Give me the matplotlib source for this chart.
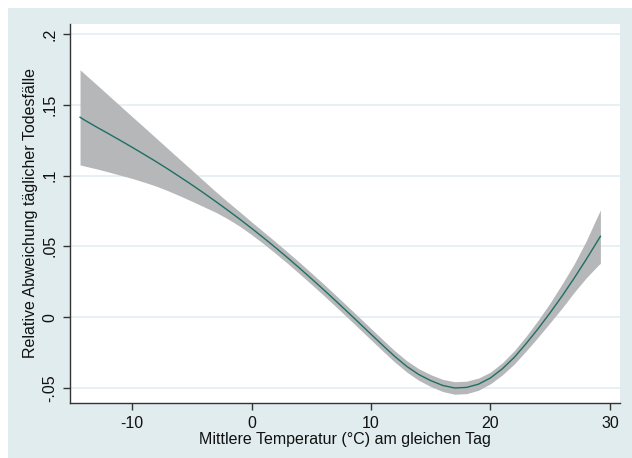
import matplotlib
matplotlib.use('Agg')
import matplotlib.pyplot as plt
from matplotlib.patches import Rectangle

plt.rcParams['font.family'] = ['Liberation Sans', 'DejaVu Sans']
plt.rcParams['axes.unicode_minus'] = False

# Werte
temp = [-14.35, -14, -13, -12, -11, -10, -9, -8, -7, -6, -5, -4, -3, -2, -1,
        0, 1, 2, 3, 4, 5, 6, 7, 8, 9, 10, 11, 12, 13, 14, 15, 16, 17, 18,
        19, 20, 21, 22, 23, 24, 25, 26, 27, 28, 29, 29.2]
schaetzer = [0.1412, 0.1393, 0.1344, 0.1297, 0.1249, 0.1200, 0.1150, 0.1099,
             0.1046, 0.0991, 0.0935, 0.0877, 0.0817, 0.0756, 0.0693,
             0.0628, 0.0561, 0.0492, 0.0421, 0.0348, 0.0273, 0.0197, 0.0119,
             0.0040, -0.0040, -0.0120, -0.0200, -0.0278, -0.0348, -0.0405,
             -0.0448, -0.0482, -0.0500, -0.0496, -0.0473, -0.0429, -0.0364,
             -0.0283, -0.0185, -0.0080, 0.0032, 0.0150, 0.0275, 0.0406,
             0.0543, 0.0571]
unten = [0.1075, 0.1068, 0.1048, 0.1026, 0.1003, 0.0980, 0.0954, 0.0926,
         0.0893, 0.0857, 0.0819, 0.0780, 0.0741, 0.0695, 0.0643,
         0.0583, 0.0519, 0.0451, 0.0381, 0.0308, 0.0233, 0.0157, 0.0079,
         0.0000, -0.0080, -0.0160, -0.0240, -0.0318, -0.0388, -0.0446,
         -0.0490, -0.0525, -0.0544, -0.0540, -0.0516, -0.0470, -0.0407,
         -0.0330, -0.0237, -0.0140, -0.0038, 0.0065, 0.0175, 0.0276,
         0.0365, 0.0381]
oben = [0.1747, 0.1720, 0.1645, 0.1569, 0.1493, 0.1417, 0.1342, 0.1266,
        0.1190, 0.1114, 0.1039, 0.0963, 0.0887, 0.0815, 0.0745,
        0.0673, 0.0603, 0.0533, 0.0461, 0.0388, 0.0313, 0.0237, 0.0159,
        0.0080, 0.0000, -0.0080, -0.0160, -0.0238, -0.0308, -0.0364,
        -0.0406, -0.0439, -0.0456, -0.0452, -0.0430, -0.0388, -0.0321,
        -0.0236, -0.0133, -0.0020, 0.0102, 0.0235, 0.0375, 0.0536,
        0.0721, 0.0757]

xticks = [-10, 0, 10, 20, 30]
yticks = [-0.05, 0, 0.05, 0.1, 0.15, 0.2]
ytick_labels = ['-.05', '0', '.05', '.1', '.15', '.2']

W, H = 632, 458
fig = plt.figure(figsize=(W / 100, H / 100), dpi=100, facecolor='white')
fig.patches.append(Rectangle((8 / W, 0), 1, 1 - 8 / H, transform=fig.transFigure,
                             facecolor='#e1ecee', edgecolor='none', zorder=-10))

ax = fig.add_axes([70 / W, 1 - 403 / H, 550 / W, 379 / H])
ax.set_zorder(5)
ax.set_facecolor('white')

ax.fill_between(temp, unten, oben, color='#b5b7b9', linewidth=0, zorder=2)
ax.plot(temp, schaetzer, color='#1e6f63', linewidth=1.0, zorder=3)

ax.set_xlim(-15.19, 30.84)
ax.set_ylim(-0.0606, 0.207)
ax.set_xticks(xticks)
ax.set_yticks(yticks)
ax.set_yticklabels(ytick_labels, rotation=90, va='center')
ax.grid(axis='y', color='#e3edf0', linewidth=1.2, zorder=1)
ax.set_axisbelow(True)

for s in ['top', 'right']:
    ax.spines[s].set_visible(False)
for s in ['left', 'bottom']:
    ax.spines[s].set_color('#333333')
    ax.spines[s].set_linewidth(1.0)

ax.tick_params(axis='both', direction='out', length=5, width=1, color='#333333',
               labelsize=11.5, labelcolor='#111111', pad=4)

ax.set_xlabel('Mittlere Temperatur (°C) am gleichen Tag', fontsize=11.5,
              color='#111111', labelpad=1)
ax.set_ylabel('Relative Abweichung täglicher Todesfälle', fontsize=11.5,
              color='#111111', labelpad=3)

fig.savefig('out.png', dpi=100, facecolor=fig.get_facecolor())
